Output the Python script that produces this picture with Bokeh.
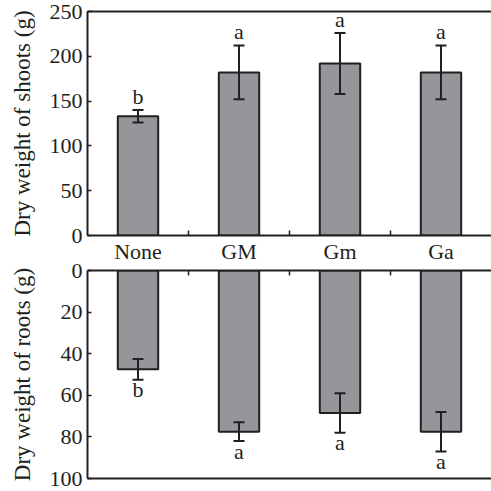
from bokeh.plotting import figure
from bokeh.layouts import column
from bokeh.models import (ColumnDataSource, Range1d, FixedTicker, LinearAxis,
                          Whisker, TeeHead)
from bokeh.core.properties import value
from bokeh.embed import file_html
from bokeh.resources import INLINE

categories = ["None", "GM", "Gm", "Ga"]
shoot_mean = [133, 182, 192, 182]
shoot_err = [7, 30, 34, 30]
shoot_letters = ["b", "a", "a", "a"]
root_mean = [47.5, 77.5, 68.5, 77.5]
root_err = [5, 4.5, 9.5, 9.5]
root_letters = ["b", "a", "a", "a"]
shoot_ticks = [0, 50, 100, 150, 200, 250]
root_ticks = [0, 20, 40, 60, 80, 100]

FONT = "Liberation Serif"
INK = "#231f20"
BAR = "#95969a"
TICK_FS = "22px"
LABEL_FS = "23px"

n = len(categories)
centers = [i + 0.5 for i in range(n)]
bounds = [i + 1 for i in range(n - 1)]

def style_common(p):
    p.xgrid.visible = False
    p.ygrid.visible = False
    p.outline_line_color = None
    p.background_fill_color = "white"

def style_yaxis(ax, ticks, label):
    ax.ticker = FixedTicker(ticks=ticks)
    ax.major_tick_in = 4
    ax.major_tick_out = 0
    ax.minor_tick_in = 0
    ax.minor_tick_out = 0
    ax.axis_line_width = 2
    ax.axis_line_color = INK
    ax.major_tick_line_color = INK
    ax.major_tick_line_width = 1.5
    ax.major_label_text_font = FONT
    ax.major_label_text_font_size = TICK_FS
    ax.major_label_text_color = INK
    ax.major_label_standoff = 5
    ax.axis_label = label
    ax.axis_label_text_font = FONT
    ax.axis_label_text_font_size = LABEL_FS
    ax.axis_label_text_font_style = "normal"
    ax.axis_label_text_color = INK
    ax.axis_label_standoff = 12

def style_xaxis(ax, major, standoff):
    ax.ticker = FixedTicker(ticks=major, minor_ticks=bounds)
    ax.major_tick_in = 0
    ax.major_tick_out = 0
    ax.minor_tick_in = 5
    ax.minor_tick_out = 0
    ax.minor_tick_line_color = INK
    ax.minor_tick_line_width = 1.5
    ax.axis_line_width = 2
    ax.axis_line_color = INK
    ax.major_label_overrides = {c: lab for c, lab in zip(centers, categories)}
    ax.major_label_text_font = FONT
    ax.major_label_text_font_size = TICK_FS
    ax.major_label_text_color = INK
    ax.major_label_standoff = standoff

def plain_axis():
    ax = LinearAxis(ticker=FixedTicker(ticks=[]))
    ax.major_label_standoff = 0
    ax.major_tick_in = 0
    ax.major_tick_out = 0
    ax.minor_tick_in = 0
    ax.minor_tick_out = 0
    ax.axis_line_width = 2
    ax.axis_line_color = INK
    return ax

# ---------- top panel: shoots ----------
src_s = ColumnDataSource(dict(
    x=centers, top=shoot_mean,
    upper=[m + e for m, e in zip(shoot_mean, shoot_err)],
    lower=[m - e for m, e in zip(shoot_mean, shoot_err)],
    letter=shoot_letters))

p1 = figure(width=491, height=266, output_backend="svg", toolbar_location=None,
            x_range=Range1d(0, n), y_range=Range1d(0, 250),
            min_border_left=87, min_border_right=0, min_border_top=11,
            min_border_bottom=28, x_axis_location="below")
style_common(p1)
p1.border_fill_color = "white"
p1.vbar(x="x", top="top", bottom=0, width=0.4, source=src_s,
        fill_color=BAR, line_color=INK, line_width=2)
p1.add_layout(Whisker(base="x", upper="upper", lower="lower", source=src_s,
                      line_color=INK, line_width=2, level="overlay",
                      upper_head=TeeHead(size=11, line_width=2, line_color=INK),
                      lower_head=TeeHead(size=11, line_width=2, line_color=INK)))
p1.text(x="x", y="upper", text="letter", source=src_s, y_offset=-14,
        text_align="center", text_baseline="alphabetic",
        text_font=value(FONT), text_font_size=TICK_FS, text_color=INK)
style_yaxis(p1.yaxis[0], shoot_ticks, "Dry weight of shoots (g)")
style_xaxis(p1.xaxis[0], centers, 3)
p1.add_layout(plain_axis(), "above")

# ---------- bottom panel: roots ----------
src_r = ColumnDataSource(dict(
    x=centers, top=root_mean,
    upper=[m + e for m, e in zip(root_mean, root_err)],
    lower=[m - e for m, e in zip(root_mean, root_err)],
    letter=root_letters))

p2 = figure(width=491, height=241, output_backend="svg", toolbar_location=None,
            x_range=Range1d(0, n), y_range=Range1d(100, 0),
            min_border_left=87, min_border_right=0, min_border_top=20,
            min_border_bottom=13, x_axis_location="above",
            styles={"margin-top": "-16px"})
style_common(p2)
p2.border_fill_color = None
p2.vbar(x="x", top="top", bottom=0, width=0.4, source=src_r,
        fill_color=BAR, line_color=INK, line_width=2)
p2.add_layout(Whisker(base="x", upper="upper", lower="lower", source=src_r,
                      line_color=INK, line_width=2, level="overlay",
                      upper_head=TeeHead(size=11, line_width=2, line_color=INK),
                      lower_head=TeeHead(size=11, line_width=2, line_color=INK)))
p2.text(x="x", y="upper", text="letter", source=src_r, y_offset=10,
        text_align="center", text_baseline="alphabetic",
        text_font=value(FONT), text_font_size=TICK_FS, text_color=INK)
style_yaxis(p2.yaxis[0], root_ticks, "Dry weight of roots (g)")
style_xaxis(p2.xaxis[0], [], 0)
p2.add_layout(plain_axis(), "below")

layout = column(p1, p2, spacing=0)
open("out.html", "w").write(file_html(layout, INLINE))
